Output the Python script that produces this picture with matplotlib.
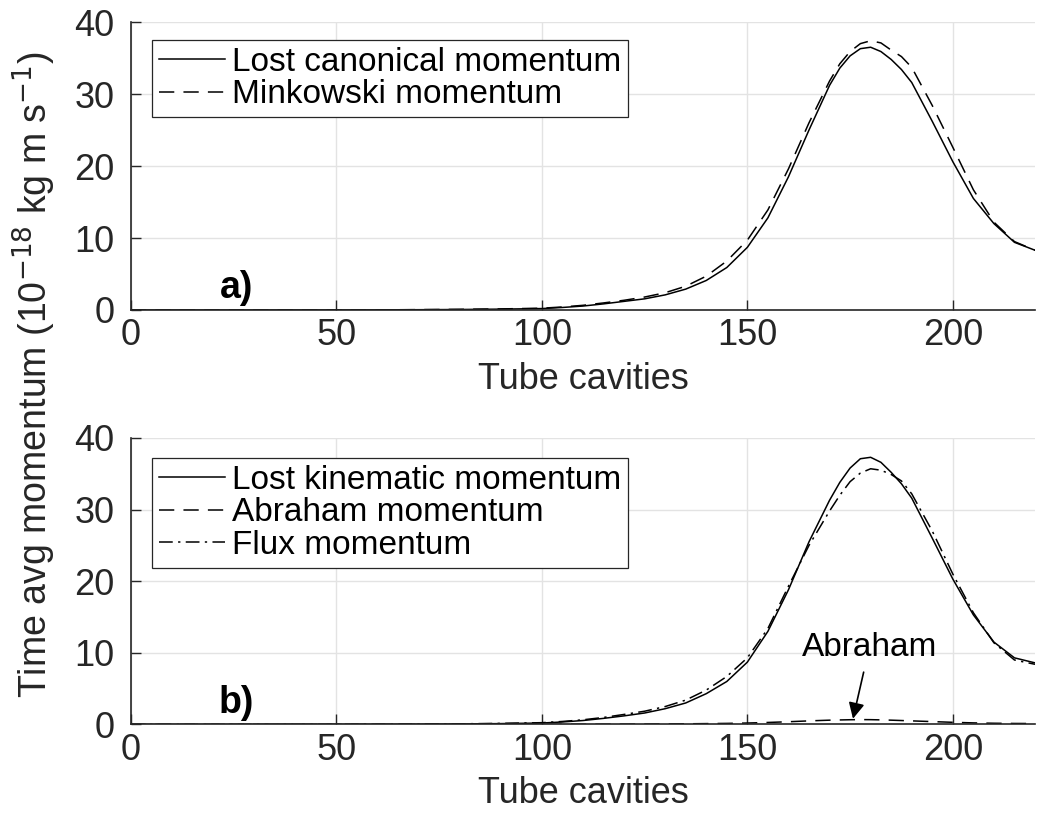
import matplotlib
matplotlib.use("Agg")
import matplotlib.pyplot as plt

plt.rcParams['font.family'] = ['Liberation Sans', 'DejaVu Sans']

# tube cavity index
cavities = [0, 10, 20, 30, 40, 50, 60, 70, 80, 90, 100,
            105, 110, 115, 120, 125, 130, 135, 140, 145, 150, 155, 160, 165, 170,
            172.5, 175, 177.5, 180, 182.5, 185, 187.5, 190,
            195, 200, 205, 210, 215, 220]

# panel a)
canonical = [0, 0, 0, 0, 0.01, 0.01, 0.02, 0.04, 0.07, 0.12, 0.2,
             0.35, 0.55, 0.85, 1.2, 1.55, 2.1, 2.9, 4.1, 5.9, 8.7, 12.8, 18.5, 25.0, 31.2,
             33.6, 35.3, 36.3, 36.5, 35.9, 34.8, 33.4, 31.6,
             26.2, 20.6, 15.5, 12.0, 9.4, 8.3]
minkowski = [0, 0, 0, 0, 0.01, 0.01, 0.02, 0.05, 0.09, 0.15, 0.25,
             0.42, 0.65, 0.98, 1.35, 1.8, 2.4, 3.3, 4.7, 6.8, 9.7, 13.9, 19.6, 26.0, 31.8,
             34.2, 35.9, 37.0, 37.4, 37.1, 36.1, 35.2, 33.7,
             28.4, 22.6, 16.7, 12.2, 9.5, 8.3]

# panel b)
kinematic = [0, 0, 0, 0, 0.01, 0.01, 0.02, 0.04, 0.07, 0.12, 0.2,
             0.35, 0.55, 0.85, 1.2, 1.6, 2.2, 3.0, 4.3, 6.0, 8.7, 13.0, 18.8, 25.5, 31.3,
             33.8, 35.8, 37.1, 37.3, 36.6, 35.2, 33.6, 31.6,
             26.0, 20.3, 15.3, 11.5, 9.3, 8.6]
abraham = [0, 0, 0, 0, 0, 0, 0, 0, 0.01, 0.01, 0.01,
           0.02, 0.02, 0.03, 0.04, 0.05, 0.07, 0.09, 0.12, 0.15, 0.2, 0.28, 0.38, 0.5, 0.6,
           0.63, 0.66, 0.68, 0.67, 0.64, 0.6, 0.55, 0.5,
           0.4, 0.3, 0.22, 0.17, 0.14, 0.13]
flux = [0, 0, 0, 0, 0.01, 0.02, 0.03, 0.05, 0.09, 0.15, 0.25,
        0.42, 0.65, 0.98, 1.4, 1.85, 2.5, 3.4, 4.8, 6.7, 9.3, 13.4, 19.3, 25.0, 29.8,
        32.0, 33.9, 35.1, 35.7, 35.5, 34.9, 34.0, 32.2,
        27.0, 21.0, 15.6, 11.4, 9.0, 8.4]

xticks = [0, 50, 100, 150, 200]
yticks = [0, 10, 20, 30, 40]

fig = plt.figure(figsize=(10.44, 8.13), dpi=100)
ax1 = fig.add_axes([0.1254, 0.6187, 0.866, 0.3542])
ax2 = fig.add_axes([0.1254, 0.1089, 0.866, 0.3524])

lw = 1.1
dash = (10, 6)
dashdot = (9, 3.5, 1.5, 3.5)
fs = 26


def style_axes(ax, label):
    ax.set_xlim(0, 220)
    ax.set_ylim(0, 40)
    ax.set_xticks(xticks)
    ax.set_yticks(yticks)
    ax.grid(True, color='#e3e3e3', linewidth=1.0)
    ax.set_axisbelow(True)
    for s in ['top', 'right']:
        ax.spines[s].set_visible(False)
    for s in ['left', 'bottom']:
        ax.spines[s].set_linewidth(1.2)
        ax.spines[s].set_color('#262626')
    ax.tick_params(direction='in', length=7, width=1.0, labelsize=fs,
                   labelcolor='#262626', color='#262626')
    ax.tick_params(axis='y', pad=12)
    ax.tick_params(axis='x', pad=6)
    ax.set_xlabel('Tube cavities', fontsize=fs, color='#262626', labelpad=6)
    ax.text(25.6, 3.0, label, fontsize=27, fontweight='bold', ha='center', va='center')


ax1.plot(cavities, canonical, color='black', lw=lw, label='Lost canonical momentum')
ax1.plot(cavities, minkowski, color='black', lw=lw, dashes=dash, label='Minkowski momentum')
style_axes(ax1, 'a)')
leg1 = ax1.legend(loc='upper left', bbox_to_anchor=(0.0233, 0.9375), fontsize=24,
                  frameon=True, fancybox=False, framealpha=1, edgecolor='#262626',
                  handlelength=2.0, handletextpad=0.2, borderpad=0.2, labelspacing=0.05,
                  borderaxespad=0)
leg1.get_frame().set_linewidth(0.9)

ax2.plot(cavities, kinematic, color='black', lw=lw, label='Lost kinematic momentum')
ax2.plot(cavities, abraham, color='black', lw=lw, dashes=dash, label='Abraham momentum')
ax2.plot(cavities, flux, color='black', lw=lw, dashes=dashdot, label='Flux momentum')
style_axes(ax2, 'b)')
leg2 = ax2.legend(loc='upper left', bbox_to_anchor=(0.0233, 0.93), fontsize=24,
                  frameon=True, fancybox=False, framealpha=1, edgecolor='#262626',
                  handlelength=2.0, handletextpad=0.2, borderpad=0.2, labelspacing=0.05,
                  borderaxespad=0)
leg2.get_frame().set_linewidth(0.9)

ax2.annotate('Abraham', xy=(175.7, 0.8), xytext=(179.7, 10.8),
             fontsize=24, ha='center', va='center',
             arrowprops=dict(arrowstyle='-|>', color='black', lw=1.2,
                             mutation_scale=24, shrinkA=5, shrinkB=0))

fig.text(0.033, 0.539, 'Time avg momentum (10$^{-18}$ kg m s$^{-1}$)',
         rotation=90, fontsize=27, color='#262626', ha='center', va='center')

fig.savefig('out.png', dpi=100)
